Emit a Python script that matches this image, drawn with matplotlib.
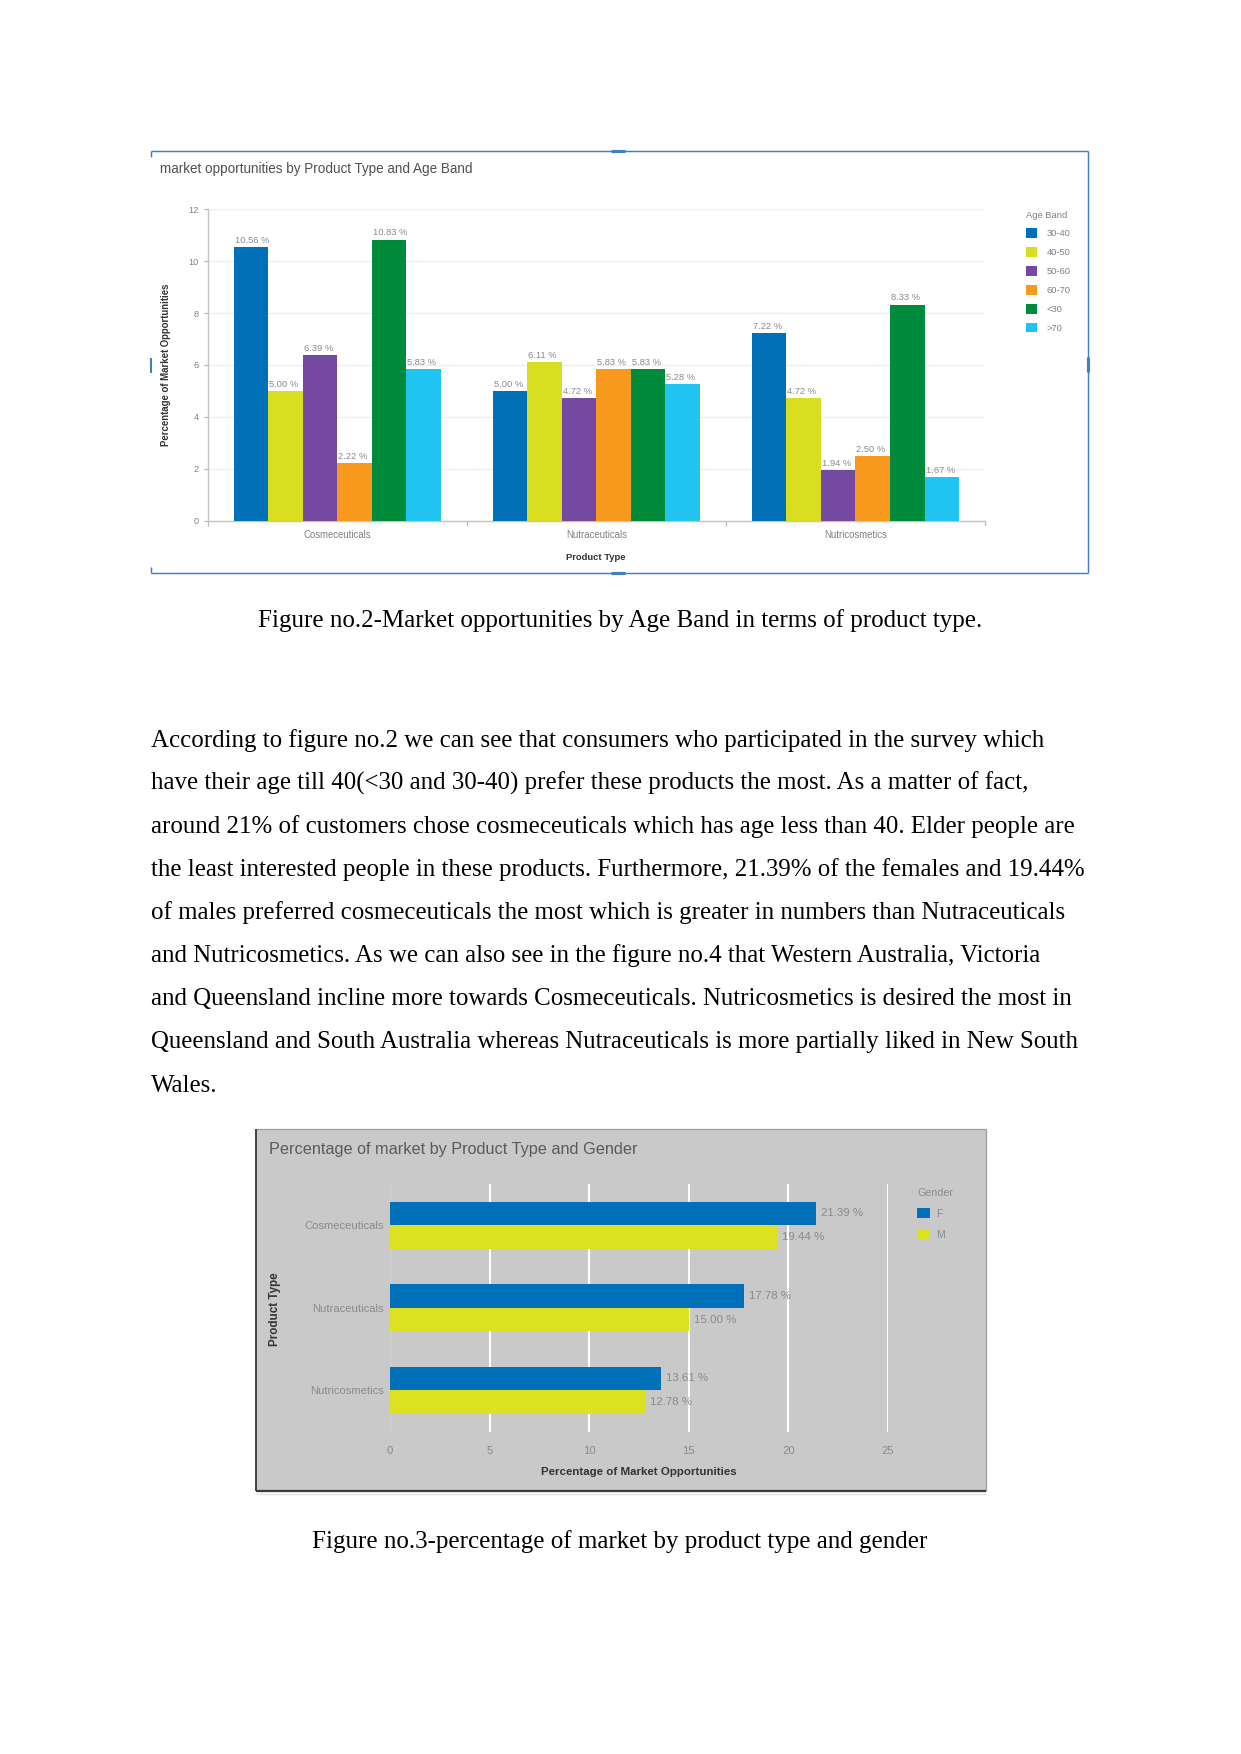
import matplotlib
matplotlib.use('Agg')
import matplotlib.pyplot as plt
from matplotlib.patches import Rectangle
from matplotlib.lines import Line2D
import numpy as np

# ---------------- data ----------------
products = ['Cosmeceuticals', 'Nutraceuticals', 'Nutricosmetics']
age_bands = ['30-40', '40-50', '50-60', '60-70', '<30', '>70']
age_30_40 = [10.56, 5.00, 7.22]
age_40_50 = [5.00, 6.11, 4.72]
age_50_60 = [6.39, 4.72, 1.94]
age_60_70 = [2.22, 5.83, 2.50]
age_lt30 = [10.83, 5.83, 8.33]
age_gt70 = [5.83, 5.28, 1.67]
age_ticks = [0, 2, 4, 6, 8, 10, 12]

genders = ['F', 'M']
gender_F = [21.39, 17.78, 13.61]
gender_M = [19.44, 15.00, 12.78]
gender_ticks = [0, 5, 10, 15, 20, 25]

caption1 = "Figure no.2-Market opportunities by Age Band in terms of product type."
caption2 = "Figure no.3-percentage of market by product type and gender"
body_lines = [
    "According to figure no.2 we can see that consumers who participated in the survey which",
    "have their age till 40(<30 and 30-40) prefer these products the most. As a matter of fact,",
    "around 21% of customers chose cosmeceuticals which has age less than 40. Elder people are",
    "the least interested people in these products. Furthermore, 21.39% of the females and 19.44%",
    "of males preferred cosmeceuticals the most which is greater in numbers than Nutraceuticals",
    "and Nutricosmetics. As we can also see in the figure no.4 that Western Australia, Victoria",
    "and Queensland incline more towards Cosmeceuticals. Nutricosmetics is desired the most in",
    "Queensland and South Australia whereas Nutraceuticals is more partially liked in New South",
    "Wales.",
]

# ---------------- layout helpers ----------------
W, H = 1241, 1754
DPI = 150
fig = plt.figure(figsize=(W / DPI, H / DPI), dpi=DPI)
fig.patch.set_facecolor('white')


def fx(x):
    return x / W


def fy(y):
    return 1 - y / H


def frect(x0, y0, x1, y1):
    return [x0 / W, 1 - y1 / H, (x1 - x0) / W, (y1 - y0) / H]


def fline(x0, y0, x1, y1, color, lw, z=5):
    fig.add_artist(Line2D([fx(x0), fx(x1)], [fy(y0), fy(y1)], transform=fig.transFigure,
                          color=color, lw=lw, solid_capstyle='butt', zorder=z))


SANS = ['Liberation Sans', 'DejaVu Sans']
SERIF = ['Liberation Serif', 'DejaVu Serif']

# ================= Chart 1 =================
frame_c = '#3f7fc6'
fline(151, 151, 1088, 151, frame_c, 0.7)
fline(151, 573, 1088, 573, frame_c, 0.7)
fline(1088, 151, 1088, 573, frame_c, 0.7)
fline(151, 151, 151, 157, frame_c, 0.7)
fline(151, 358, 151, 373, frame_c, 1.0)
fline(151, 567, 151, 573, frame_c, 0.7)
fline(611, 151, 625, 151, frame_c, 1.5)
fline(611, 573, 625, 573, frame_c, 1.5)
fline(1088, 357, 1088, 372, frame_c, 1.5)

fig.text(fx(160), fy(169), 'market opportunities by Product Type and Age Band',
         family=SANS, fontsize=6.5, color='#505050', ha='left', va='center')

ax1 = fig.add_axes(frect(207.7, 209.3, 985, 520.7))
age_series = [age_30_40, age_40_50, age_50_60, age_60_70, age_lt30, age_gt70]
age_colors = ['#0071b9', '#d9de21', '#7549a1', '#f6991d', '#008a3b', '#21c4f1']
x = np.arange(len(products))
nb = len(age_series)
w = 0.8 / nb
handles = []
for i, (vals, col, lab) in enumerate(zip(age_series, age_colors, age_bands)):
    off = (i - (nb - 1) / 2) * w
    b = ax1.bar(x + off, vals, w, color=col, linewidth=0, label=lab, zorder=3)
    handles.append(b)
    for xi, v in zip(x + off, vals):
        ax1.annotate(f'{v:.2f} %', xy=(xi - w / 2, v), xytext=(0.5, 2.0),
                     textcoords='offset points', ha='left', va='baseline',
                     fontsize=4.5, color='#8a8a8a', family=SANS)
ax1.set_xlim(-0.5, 2.5)
ax1.set_ylim(0, 12)
ax1.set_yticks(age_ticks)
ax1.set_xticks(x)
ax1.set_xticklabels(products)
ax1.set_xticks([-0.5, 0.5, 1.5, 2.5], minor=True)
ax1.tick_params(axis='x', which='major', length=0, pad=4.3, labelsize=4.6, labelcolor='#808080')
ax1.tick_params(axis='x', which='minor', length=2.5, color='#bdbdbd', width=0.6)
ax1.tick_params(axis='y', length=2, color='#bdbdbd', width=0.6, pad=2.5,
                labelsize=4.4, labelcolor='#808080')
for lab in ax1.get_xticklabels() + ax1.get_yticklabels():
    lab.set_family(SANS)
for s in ['top', 'right']:
    ax1.spines[s].set_visible(False)
for s in ['left', 'bottom']:
    ax1.spines[s].set_color('#c4c4c4')
    ax1.spines[s].set_linewidth(0.7)
ax1.yaxis.grid(True, color='#eeeeee', lw=0.6, zorder=0)
ax1.set_axisbelow(True)

fig.text(fx(166), fy(365), 'Percentage of Market Opportunities', rotation=90,
         family=SANS, fontweight='bold', fontsize=4.65, color='#333333', ha='center', va='center')
fig.text(fx(596), fy(557), 'Product Type', family=SANS, fontweight='bold',
         fontsize=4.5, color='#333333', ha='center', va='center')

leg1 = ax1.legend(handles=handles, labels=age_bands, title='Age Band', loc='upper left',
                  bbox_to_anchor=(fx(1026), fy(210.5)), bbox_transform=fig.transFigure,
                  frameon=False, fontsize=4.5, title_fontsize=4.5, handlelength=1.2,
                  handleheight=1.2, labelspacing=0.95, handletextpad=1.0,
                  borderpad=0, borderaxespad=0, alignment='left',
                  prop={'family': SANS, 'size': 4.5})
leg1.get_title().set_color('#808080')
leg1.get_title().set_family(SANS)
for t in leg1.get_texts():
    t.set_color('#808080')

fig.text(fx(620), fy(627.3), caption1, family=SERIF, fontsize=12, color='black',
         ha='center', va='baseline')

# ================= body text =================
for i, line in enumerate(body_lines):
    fig.text(fx(150.7), fy(746.7 + i * 43.1), line, family=SERIF, fontsize=11.96,
             color='black', ha='left', va='baseline')

# ================= Chart 2 =================
fig.add_artist(Rectangle((fx(256), fy(1491)), (986 - 256) / W, (1491 - 1129) / H,
                         transform=fig.transFigure, facecolor='#c9c9c9', edgecolor='none', zorder=0))
fline(256, 1129, 986, 1129, '#9a9a9a', 0.6, z=1)
fline(986, 1129, 986, 1491, '#9a9a9a', 0.6, z=1)
fline(256, 1129, 256, 1491, '#3c3c3c', 0.9, z=1)
fline(256, 1491, 986, 1491, '#3c3c3c', 1.1, z=1)
fline(256, 1494, 986, 1494, '#dedede', 0.6, z=1)

fig.text(fx(269), fy(1149.3), 'Percentage of market by Product Type and Gender',
         family=SANS, fontsize=7.8, color='#5a5a5a', ha='left', va='center')

ax2 = fig.add_axes(frect(390, 1184, 888, 1431.5))
ax2.patch.set_alpha(0)
y = np.arange(len(products))
h = 0.2875
bF = ax2.barh(y - h / 2, gender_F, h, color='#0070b8', linewidth=0, zorder=3, label='F')
bM = ax2.barh(y + h / 2, gender_M, h, color='#dce21f', linewidth=0, zorder=3, label='M')
for vals, off in [(gender_F, -h / 2), (gender_M, h / 2)]:
    for yi, v in zip(y + off, vals):
        ax2.annotate(f'{v:.2f} %', xy=(v, yi), xytext=(2.4, 0), textcoords='offset points',
                     ha='left', va='center', fontsize=5.5, color='#8a8a8a', family=SANS)
ax2.set_xlim(0, 25)
ax2.set_ylim(2.5, -0.5)
ax2.set_xticks(gender_ticks)
ax2.set_yticks(y)
ax2.set_yticklabels(products)
ax2.tick_params(axis='x', length=0, pad=7.0, labelsize=5.4, labelcolor='#8a8a8a')
ax2.tick_params(axis='y', length=0, pad=3.0, labelsize=5.4, labelcolor='#8a8a8a')
for lab in ax2.get_xticklabels() + ax2.get_yticklabels():
    lab.set_family(SANS)
for s in ax2.spines.values():
    s.set_visible(False)
ax2.xaxis.grid(True, color='white', lw=1.0, zorder=0)
ax2.set_axisbelow(True)
ax2.axvline(0, color='#d2d2d2', lw=0.6, zorder=1)

fig.text(fx(275), fy(1309), 'Product Type', rotation=90, family=SANS, fontweight='bold',
         fontsize=5.6, color='#333333', ha='center', va='center')
fig.text(fx(639), fy(1471.7), 'Percentage of Market Opportunities', family=SANS,
         fontweight='bold', fontsize=5.5, color='#333333', ha='center', va='center')

leg2 = ax2.legend(handles=[bF, bM], labels=genders, title='Gender', loc='upper left',
                  bbox_to_anchor=(fx(917), fy(1187.5)), bbox_transform=fig.transFigure,
                  frameon=False, fontsize=5.0, title_fontsize=5.2, handlelength=1.2,
                  handleheight=1.15, labelspacing=1.02, handletextpad=0.6,
                  borderpad=0, borderaxespad=0, alignment='left',
                  prop={'family': SANS, 'size': 5.0})
leg2.get_title().set_color('#8a8a8a')
leg2.get_title().set_family(SANS)
for t in leg2.get_texts():
    t.set_color('#8a8a8a')

fig.text(fx(620), fy(1548.3), caption2, family=SERIF, fontsize=12, color='black',
         ha='center', va='baseline')

fig.savefig('out.png', dpi=DPI, facecolor='white')
